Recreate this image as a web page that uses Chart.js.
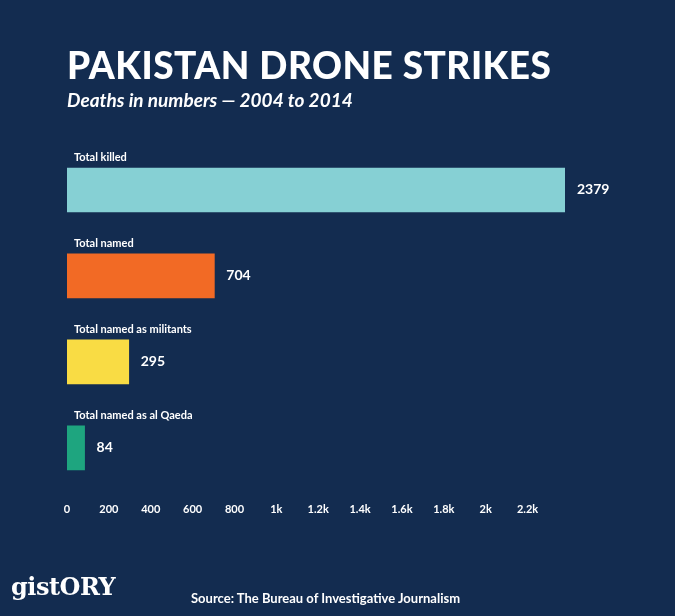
<!DOCTYPE html>
<html>
<head>
<meta charset="utf-8">
<script src="https://cdn.jsdelivr.net/npm/chart.js@4"></script>
<style>
  html, body { margin: 0; padding: 0; background: #132c50; }
  #wrap { position: relative; width: 675px; height: 616px; font-family: Lato, "Open Sans", sans-serif; color: #fff; }
  #title { position: absolute; left: 67px; top: 42px; font-size: 37px; font-weight: 900; letter-spacing: 0.5px; }
  #sub { position: absolute; left: 67px; top: 88px; font-size: 19px; font-style: italic; font-weight: 700; }
  #logo { position: absolute; left: 11px; top: 572px; font-family: "DejaVu Serif", serif; font-size: 24px; font-weight: bold; letter-spacing: -0.5px; }
  #src { position: absolute; left: 191px; top: 590px; font-size: 13px; font-weight: 700; }
  canvas { position: absolute; left: 0; top: 0; }
</style>
</head>
<body>
<div id="wrap">
  <canvas id="chart" width="675" height="616"></canvas>
  <div id="title">PAKISTAN DRONE STRIKES</div>
  <div id="sub">Deaths in numbers — 2004 to 2014</div>
  <div id="logo">gistORY</div>
  <div id="src">Source: The Bureau of Investigative Journalism</div>
</div>
<script>
const labels = ["Total killed", "Total named", "Total named as militants", "Total named as al Qaeda"];
const values = [2379, 704, 295, 84];
const colors = ["#86d0d4", "#f26a25", "#f9dc44", "#1ea57f"];

// labels above bars, numbers right of bars
const barText = {
  id: "barText",
  afterDatasetsDraw(chart) {
    const ctx = chart.ctx;
    const meta = chart.getDatasetMeta(0);
    ctx.save();
    ctx.fillStyle = "#fff";
    meta.data.forEach((bar, i) => {
      const top = bar.y - bar.height / 2;
      ctx.font = "bold 11px Lato, sans-serif";
      ctx.textBaseline = "bottom";
      ctx.textAlign = "left";
      ctx.fillText(labels[i], chart.chartArea.left + 7, top - 5);
      ctx.font = "bold 14px Lato, sans-serif";
      ctx.textBaseline = "middle";
      ctx.fillText(values[i], bar.x + 12, bar.y);
    });
    ctx.restore();
  }
};

new Chart(document.getElementById("chart"), {
  type: "bar",
  data: {
    labels,
    datasets: [{ data: values, backgroundColor: colors, barThickness: 44 }]
  },
  options: {
    indexAxis: "y",
    responsive: false,
    animation: false,
    layout: { padding: { left: 67, right: 110, top: 147, bottom: 96 } },
    scales: {
      x: {
        min: 0, max: 2379,
        grid: { display: false }, border: { display: false },
        afterBuildTicks: axis => {
          const t = [];
          for (let v = 0; v <= 2200; v += 200) t.push({ value: v });
          axis.ticks = t;
        },
        ticks: {
          color: "#fff", padding: 4, maxRotation: 0, autoSkip: false,
          font: { size: 11, weight: "bold", family: "Lato, sans-serif" },
          callback: v => v >= 1000 ? (v / 1000) + "k" : v
        }
      },
      y: { display: false }
    },
    plugins: { legend: { display: false }, tooltip: { enabled: false } }
  },
  plugins: [barText]
});
</script>
</body>
</html>
